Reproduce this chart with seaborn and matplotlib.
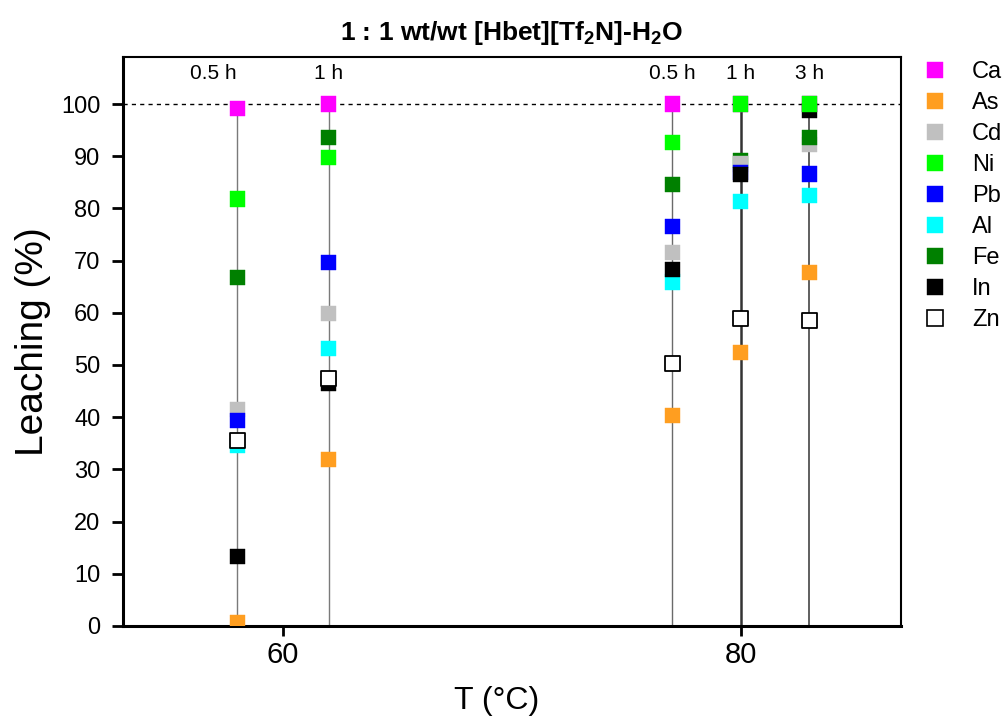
import numpy as np
import pandas as pd
import matplotlib
matplotlib.use("Agg")
import matplotlib.pyplot as plt
from matplotlib.lines import Line2D
import seaborn as sns

# temperatures of the five runs and the time labels above them
temps = [58, 62, 77, 80, 83]
time_labels = ["0.5 h", "1 h", "0.5 h", "1 h", "3 h"]

# leaching (%) per element at each run
elements = ["Ca", "As", "Cd", "Ni", "Pb", "Al", "Fe", "In", "Zn"]
ca = [99.2, 100.0, 100.0, 100.0, 100.0]
as_ = [0.6, 31.9, 40.4, 52.4, 67.7]
cd = [41.4, 59.9, 71.6, 88.5, 92.3]
ni = [81.8, 89.7, 92.6, 100.0, 100.0]
pb = [39.3, 69.7, 76.6, 86.9, 86.6]
al = [34.6, 53.1, 65.9, 81.4, 82.4]
fe = [66.7, 93.5, 84.6, 89.1, 93.6]
in_ = [13.3, 46.5, 68.3, 86.5, 98.7]
zn = [35.6, 47.4, 50.3, 58.9, 58.5]
values = {"Ca": ca, "As": as_, "Cd": cd, "Ni": ni, "Pb": pb,
          "Al": al, "Fe": fe, "In": in_, "Zn": zn}

colors = {"Ca": "#ff00ff", "As": "#ff9e20", "Cd": "#c0c0c0", "Ni": "#00ff00",
          "Pb": "#0000ff", "Al": "#00ffff", "Fe": "#008000", "In": "#000000",
          "Zn": "#ffffff"}

# drawing order (bottom -> top) so overlapping squares stack like the original
base_order = ["Ca", "As", "Fe", "Cd", "Pb", "Al", "In", "Ni", "Zn"]
last_order = ["Ca", "As", "Cd", "Fe", "Pb", "Al", "In", "Ni", "Zn"]

rows = []
for i, t in enumerate(temps):
    order = last_order if i == len(temps) - 1 else base_order
    for el in order:
        rows.append({"T": t, "leach": values[el][i], "element": el})
df = pd.DataFrame(rows)

sns.set_theme(style="ticks")
plt.rcParams["font.family"] = ["Liberation Sans", "DejaVu Sans"]
plt.rcParams["mathtext.fontset"] = "custom"
plt.rcParams["mathtext.rm"] = "Liberation Sans"
plt.rcParams["mathtext.bf"] = "Liberation Sans:bold"
for key in ["text.color", "axes.labelcolor", "xtick.color", "ytick.color", "axes.edgecolor"]:
    plt.rcParams[key] = "black"

fig = plt.figure(figsize=(10.07, 7.22), dpi=100)
ax = fig.add_axes([0.1218, 0.133, 0.7729, 0.788])

# vertical drop lines from 0 to the highest value of each run
col_max = [max(values[el][i] for el in elements) for i in range(len(temps))]
line_colors = ["#7a7a7a", "#7a7a7a", "#6a6a6a", "#333333", "#444444"]
line_widths = [1.0, 1.0, 1.0, 1.8, 1.2]
ax.vlines(temps, 0, col_max, colors=line_colors, linewidths=line_widths, zorder=1)
ax.axhline(100, color="black", lw=1.0, ls=(0, (3, 3)), zorder=1.5)

sns.scatterplot(data=df, x="T", y="leach", hue="element", palette=colors,
                marker="s", s=118, legend=False, ax=ax, zorder=3)
pts = ax.collections[-1]
edge = ["black" if e == "Zn" else colors[e] for e in df["element"]]
lw = [1.3 if e == "Zn" else 0.3 for e in df["element"]]
pts.set_edgecolors(edge)
pts.set_linewidths(lw)

# first label sits to the left of its line, the others are centred
for i, (t, lab) in enumerate(zip(temps, time_labels)):
    ax.text(t, 105.9, lab, ha="right" if i == 0 else "center", va="center", fontsize=15)

ax.set_xlim(53, 87)
ax.set_ylim(0, 109)
ax.set_xticks([60, 80])
ax.set_yticks(np.arange(0, 101, 10))
ax.tick_params(axis="x", labelsize=21, length=7, width=2, direction="out", pad=4)
ax.tick_params(axis="y", labelsize=17, length=8, width=2, direction="out", pad=8)
for side in ["left", "bottom"]:
    ax.spines[side].set_linewidth(2.2)
for side in ["top", "right"]:
    ax.spines[side].set_linewidth(1.5)
    ax.spines[side].set_visible(True)

ax.set_xlabel("T (°C)", fontsize=23)
ax.xaxis.set_label_coords(0.481, -0.106)
ax.set_ylabel("Leaching (%)", fontsize=28, labelpad=7)
ax.set_title(r"1 : 1 wt/wt [Hbet][Tf$_\mathbf{2}$N]-H$_\mathbf{2}$O",
             fontsize=19, fontweight="bold", pad=12)

handles = [Line2D([], [], marker="s", ls="", markersize=11.5,
                  markerfacecolor=colors[el],
                  markeredgecolor="black" if el == "Zn" else colors[el],
                  markeredgewidth=1.2 if el == "Zn" else 0.3)
           for el in elements]
fig.legend(handles, elements, loc="upper left", bbox_to_anchor=(0.917, 0.915),
           frameon=False, fontsize=17, handlelength=1.0, handletextpad=1.05,
           labelspacing=0.38, borderpad=0, borderaxespad=0)

fig.savefig("out.png", dpi=100)
